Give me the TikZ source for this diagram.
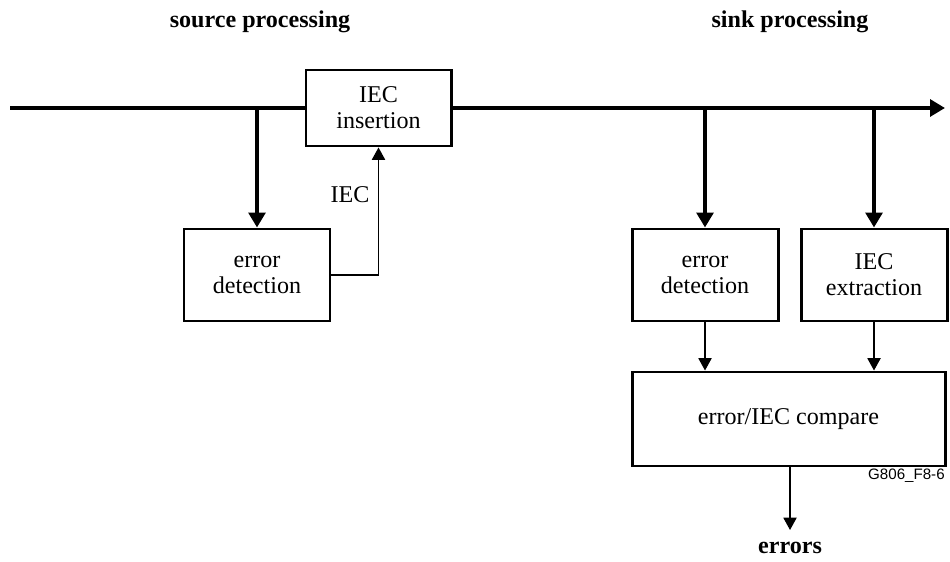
\documentclass[tikz,border=0pt]{standalone}
\usepackage{fontspec}
\setmainfont{Liberation Serif}
\newfontfamily\labelsans{Liberation Sans}
\usepackage{tikz}
\usetikzlibrary{arrows.meta, positioning, calc}

\tikzset{
    blk/.style={draw, line width=1.7pt, fill=white, minimum width=2.92cm, minimum height=1.84cm, align=center, font=\fontsize{13.7}{14.8}\selectfont},
    bus/.style={line width=2.8pt},
    busarrow/.style={line width=2.8pt, -{Triangle[length=8.5pt, width=9.5pt]}},
    sig/.style={line width=0.75pt, -{Triangle[length=7pt, width=7.5pt]}},
    heading/.style={font=\fontsize{13.7}{15}\selectfont\bfseries}
}

\begin{document}
\begin{tikzpicture}
    \useasboundingbox (0,0) rectangle (19,-11.24);

    % Headings
    \node[heading] (srchead) at (5.2,-0.44) {source processing};
    \node[heading] (snkhead) at (15.8,-0.44) {sink processing};

    % Source side
    \node[blk, minimum width=2.9cm, minimum height=1.52cm] (ins) at (7.57,-2.16) {IEC\\insertion};
    \node[blk] (detL) at (5.14,-5.5) {error\\detection};

    % Sink side
    \node[blk] (detR) at (14.1,-5.5) {error\\detection};
    \node[blk] (ext) at (17.48,-5.5) {IEC\\extraction};
    \node[blk, minimum width=6.26cm, minimum height=1.88cm] (cmp) at (15.77,-8.38) {error/IEC compare};

    % Main signal
    \coordinate (start) at (0.2,-2.16);
    \coordinate (finish) at (18.9,-2.16);
    \draw[bus] (start) -- (ins.west);
    \draw[busarrow] (ins.east) -- (finish);

    % Taps
    \draw[busarrow] (detL.north |- start) -- (detL.north);
    \draw[busarrow] (detR.north |- start) -- (detR.north);
    \draw[busarrow] (ext.north |- start) -- (ext.north);

    % Thin connectors
    \draw[sig] (detL.east) -| (ins.south);
    \node[font=\fontsize{13.7}{15}\selectfont] (ieclbl) at (7.0,-3.9) {IEC};
    \draw[sig] (detR.south) -- (detR.south |- cmp.north);
    \draw[sig] (ext.south) -- (ext.south |- cmp.north);

    \coordinate (out) at (15.8,-10.6);
    \draw[sig] (cmp.south -| out) -- (out);
    \node[heading] (errs) at (15.8,-10.96) {errors};

    % Figure tag
    \node[anchor=east, inner sep=0pt, font=\labelsans\fontsize{8.6}{10}\selectfont] (tag) at (18.9,-9.52) {G806\_F8-6};
\end{tikzpicture}
\end{document}
